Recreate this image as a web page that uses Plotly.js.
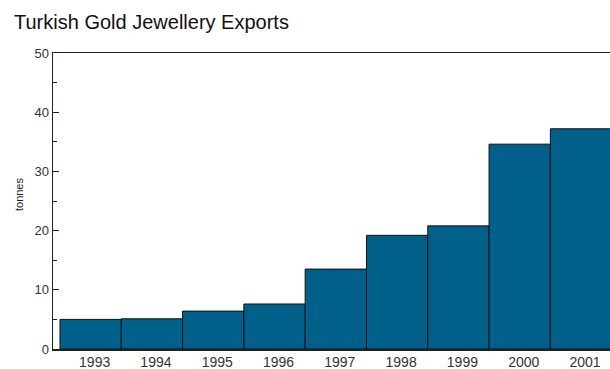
<!DOCTYPE html>
<html><head><meta charset="utf-8">
<script src="https://cdn.plot.ly/plotly-3.0.1.min.js"></script>
<style>html,body{margin:0;padding:0;background:#fff}#c{width:610px;height:369px}</style>
</head><body><div id="c"></div>
<script>
const years = [1993, 1994, 1995, 1996, 1997, 1998, 1999, 2000, 2001];
const tonnes = [5.0, 5.1, 6.4, 7.6, 13.5, 19.2, 20.8, 34.6, 37.2];
const yTicks = [0, 10, 20, 30, 40, 50];
const FONT = 'Liberation Sans, Arial, sans-serif';

Plotly.newPlot('c', [{
  type: 'bar', x: years, y: tonnes,
  marker: {color: '#00608a', line: {color: '#111', width: 1}},
  hoverinfo: 'none'
}], {
  width: 610, height: 369,
  margin: {l: 53, r: 0, t: 53, b: 20},
  paper_bgcolor: '#fff', plot_bgcolor: '#fff',
  bargap: 0,
  showlegend: false,
  title: {text: 'Turkish Gold Jewellery Exports', x: 0.023, xanchor: 'left', y: 0.9404, yanchor: 'middle',
          font: {family: FONT, size: 20, color: '#111'}},
  xaxis: {range: [1992.386, 2001.473], tickvals: years, ticktext: years.map(String),
          showline: true, linecolor: '#222', linewidth: 1.5, mirror: true,
          showgrid: false, zeroline: false, ticks: '', ticklabelshift: 4,
          tickfont: {family: FONT, size: 14, color: '#333'}},
  yaxis: {range: [0, 50], tickvals: yTicks, ticks: 'inside', ticklen: 6, tickcolor: '#222',
          minor: {dtick: 5, tick0: 0, ticks: 'inside', ticklen: 4, tickcolor: '#222'},
          showline: true, linecolor: '#222', linewidth: 1.5,
          showgrid: false, zeroline: false,
          tickfont: {family: FONT, size: 13, color: '#333'}},
  annotations: [{text: 'tonnes', textangle: -90, xref: 'paper', yref: 'paper',
                 x: -0.061, y: 0.5236, xanchor: 'center', yanchor: 'middle', showarrow: false,
                 font: {family: FONT, size: 11, color: '#222'}}]
}, {staticPlot: true});
</script></body></html>
